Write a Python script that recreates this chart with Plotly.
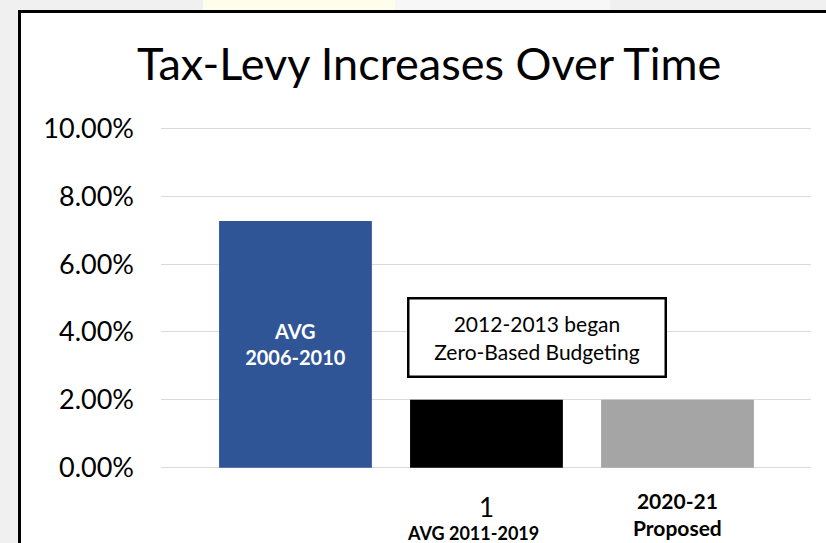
import plotly.graph_objects as go

categories = ["AVG 2006-2010", "AVG 2011-2019", "2020-21 Proposed"]
values = [7.27, 2.0, 2.0]
colors = ["#2F5597", "#000000", "#A5A5A5"]
bar_texts = ["<b>AVG<br>2006-2010</b>", "", ""]
tick_vals = [0, 2, 4, 6, 8, 10]
tick_text = ["0.00%", "2.00%", "4.00%", "6.00%", "8.00%", "10.00%"]

FONT = "Lato"

fig = go.Figure()
fig.add_trace(go.Bar(
    x=[0, 1, 2], y=values,
    marker=dict(color=colors, line=dict(width=0)),
    width=0.8,
    text=bar_texts,
    textposition="inside",
    insidetextanchor="middle",
    textfont=dict(family=FONT, size=20, color="white"),
    hoverinfo="skip",
))

W, H = 826, 543
L, R, T, B = 161, 15, 126, 73
pw, ph = W - L - R, H - T - B

def px(x):
    return (x - L) / pw

def py(y):
    return (H - B - y) / ph

shapes = [
    # slide background decorations
    dict(type="rect", xref="paper", yref="paper", x0=px(203), x1=px(395), y0=py(11), y1=py(0),
         fillcolor="#FFFDEB", line=dict(width=0), layer="below"),
    dict(type="rect", xref="paper", yref="paper", x0=px(395), x1=px(610), y0=py(11), y1=py(0),
         fillcolor="#F7F7F7", line=dict(width=0), layer="below"),
    # chart frame
    dict(type="rect", xref="paper", yref="paper", x0=px(19.5), x1=px(840), y0=py(560), y1=py(11.5),
         fillcolor="white", line=dict(color="black", width=3), layer="below"),
]

annotations = [
    dict(text="Tax-Levy Increases Over Time", xref="paper", yref="paper",
         x=px(429), y=py(63), showarrow=False, xanchor="center", yanchor="middle",
         font=dict(family=FONT, size=45, color="black")),
    dict(text="2012-2013 began<br>Zero-Based Budgeting", xref="x", yref="y",
         x=1.264, y=3.84, showarrow=False, xanchor="center", yanchor="middle",
         width=253, height=74, borderwidth=2.5, bordercolor="black", bgcolor="white",
         borderpad=1, font=dict(family=FONT, size=21, color="black")),
    dict(text="1", xref="x", yref="paper", x=1, y=py(507), showarrow=False,
         yanchor="middle", font=dict(family=FONT, size=26, color="black")),
    dict(text="<b>AVG 2011-2019</b>", xref="x", yref="paper", x=0.93, y=py(533), showarrow=False,
         yanchor="middle", font=dict(family=FONT, size=18, color="black")),
    dict(text="<b>2020-21<br>Proposed</b>", xref="x", yref="paper", x=2, y=py(514), showarrow=False,
         yanchor="middle", font=dict(family=FONT, size=21, color="black")),
]

fig.update_layout(
    width=W, height=H,
    margin=dict(l=L, r=R, t=T, b=B),
    paper_bgcolor="#F0F0F0",
    plot_bgcolor="rgba(0,0,0,0)",
    showlegend=False,
    shapes=shapes,
    annotations=annotations,
    xaxis=dict(range=[-0.704, 2.699], showticklabels=False, showgrid=False,
               zeroline=False, showline=False, fixedrange=True),
    yaxis=dict(range=[-0.068, 10.068], tickvals=tick_vals, ticktext=tick_text,
               showgrid=True, gridcolor="#D9D9D9", gridwidth=1.3,
               zeroline=False, showline=False, ticks="",
               ticklabelstandoff=26,
               tickfont=dict(family=FONT, size=27, color="black")),
)

fig.write_html("out.html", config={"displayModeBar": False},
               post_script="document.body.style.margin='0px';")
